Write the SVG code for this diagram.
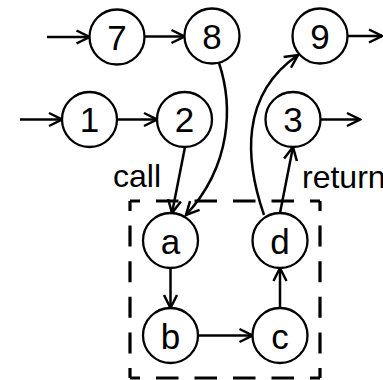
<svg xmlns="http://www.w3.org/2000/svg" width="383" height="380" viewBox="0 0 383 380">
<style>
.node circle{fill:#fff;stroke:#000;stroke-width:2.3}
.node text,.lbl{font-family:"Liberation Sans",Arial,sans-serif;font-size:35px;fill:#000}
.node text{text-anchor:middle}
.lbl{font-size:32px}
.edge{fill:none;stroke:#000;stroke-width:2.5;marker-end:url(#arr)}
.box{stroke:#000;stroke-width:3.2;fill:none}
</style>
<defs>
<marker id="arr" viewBox="-15 -9 17 18" refX="0" refY="0" markerWidth="17" markerHeight="18" markerUnits="userSpaceOnUse" orient="auto">
<path d="M-13,-6.5 L0,0 L-13,6.5" fill="none" stroke="#000" stroke-width="2.5"/>
</marker>
</defs>
<g id="frame">
<line class="box" x1="130" y1="201" x2="320" y2="201" stroke-dasharray="10 16 22.5 16 22.5 16 22.5 16 22.5 16 10"/>
<line class="box" x1="130" y1="378" x2="320" y2="378" stroke-dasharray="10 16 22.5 16 22.5 16 22.5 16 22.5 16 10"/>
<line class="box" x1="130" y1="201" x2="130" y2="378" stroke-dasharray="10 14.6 21 14.6 21 14.6 21 14.6 21 14.6 10"/>
<line class="box" x1="320" y1="201" x2="320" y2="378" stroke-dasharray="10 14.6 21 14.6 21 14.6 21 14.6 21 14.6 10"/>
</g>
<g id="connectors">
<line class="edge" x1="47" y1="37" x2="89.5" y2="37"/>
<line class="edge" x1="144.5" y1="36.5" x2="184.5" y2="36.5"/>
<line class="edge" x1="347.5" y1="36" x2="382" y2="36"/>
<line class="edge" x1="20" y1="119.5" x2="62" y2="119.5"/>
<line class="edge" x1="117" y1="119.5" x2="157" y2="119.5"/>
<line class="edge" x1="320.5" y1="119.5" x2="360" y2="119.5"/>
<line class="edge" x1="185" y1="147" x2="172" y2="213"/>
<line class="edge" x1="280" y1="213" x2="293" y2="147"/>
<path class="edge" d="M219,63 C233,105 232,165 186,215"/>
<path class="edge" d="M264,215 C245,160 240,95 298,55"/>
<line class="edge" x1="170.5" y1="268" x2="170.5" y2="308"/>
<line class="edge" x1="198" y1="335.5" x2="252.5" y2="335.5"/>
<line class="edge" x1="280" y1="308" x2="280" y2="268"/>
</g>
<g id="n7" class="node"><circle cx="117" cy="37" r="27.5"/><text x="117" y="50">7</text></g>
<g id="n8" class="node"><circle cx="212" cy="36" r="27.5"/><text x="212" y="49">8</text></g>
<g id="n9" class="node"><circle cx="320" cy="36" r="27.5"/><text x="320" y="49">9</text></g>
<g id="n1" class="node"><circle cx="89.5" cy="119.5" r="27.5"/><text x="89.5" y="132">1</text></g>
<g id="n2" class="node"><circle cx="184.5" cy="119.5" r="27.5"/><text x="184.5" y="132">2</text></g>
<g id="n3" class="node"><circle cx="293" cy="119.5" r="27.5"/><text x="293" y="132">3</text></g>
<g id="na" class="node"><circle cx="170.5" cy="240.5" r="27.5"/><text x="170.5" y="254">a</text></g>
<g id="nd" class="node"><circle cx="280" cy="240.5" r="27.5"/><text x="280" y="254">d</text></g>
<g id="nb" class="node"><circle cx="170.5" cy="335.5" r="27.5"/><text x="170.5" y="349">b</text></g>
<g id="nc" class="node"><circle cx="280" cy="335.5" r="27.5"/><text x="280" y="349">c</text></g>
<text class="lbl" x="113" y="187">call</text>
<text class="lbl" x="302" y="188">return</text>
</svg>
